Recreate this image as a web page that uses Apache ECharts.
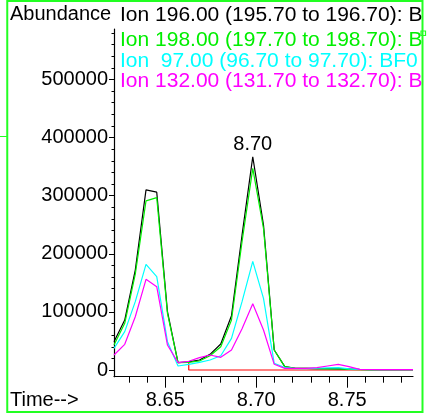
<!DOCTYPE html>
<html>
<head>
<meta charset="utf-8">
<script src="https://cdn.jsdelivr.net/npm/echarts@6/dist/echarts.min.js"></script>
<style>
html,body{margin:0;padding:0;background:#fff;}
#c{width:428px;height:413px;}
</style>
</head>
<body>
<div id="c"></div>
<script>
// Retention times (min)
const times = [8.6218, 8.6277, 8.6335, 8.6394, 8.6453, 8.6512, 8.6570, 8.6629, 8.6688, 8.6746,
  8.6805, 8.6864, 8.6922, 8.6981, 8.7040, 8.7099, 8.7157, 8.7216, 8.7275, 8.7334,
  8.7392, 8.7451, 8.7510, 8.7568, 8.7627, 8.7686, 8.7744, 8.7803, 8.7862];
// Ion 196.00 (black)
const ion196 = [48700, 86000, 172000, 310000, 306000, 100300, 12600, 14000, 17200, 27000,
  44700, 93500, 232000, 367000, 249500, 34400, 5700, 3000, 2900, 2500,
  2200, 1800, 1400, 1000, 800, 700, 600, 600, 600];
// Ion 198.00 (green)
const ion198 = [43000, 80300, 165000, 291000, 296600, 97500, 12600, 13000, 15500, 24600,
  40100, 86000, 220800, 347000, 243800, 34400, 5700, 2900, 2800, 2300,
  2000, 1700, 1200, 800, 600, 500, 500, 500, 500];
// Ion 97.00 (cyan)
const ion97 = [37300, 66000, 117600, 181900, 160600, 48700, 6900, 9800, 13200, 17200,
  24600, 54500, 117600, 187000, 123400, 11500, 4000, 2500, 2500, 3000,
  3500, 4000, 2000, 1000, 800, 700, 700, 700, 700];
// Ion 132.00 (magenta)
const ion132 = [25800, 44200, 91700, 156100, 143400, 43000, 12600, 15000, 21200, 25800,
  21800, 34400, 71000, 114000, 68800, 9800, 2900, 2900, 2900, 4000,
  6900, 9800, 5700, 1100, 900, 800, 800, 800, 800];
// Integration baseline (red)
const baseTimes = [8.6629, 8.6629, 8.7862];
const baseValues = [13500, 0, 0];

// Tick labels
const xMajorTicks = [8.65, 8.70, 8.75];
const xMinorTicks = [8.63, 8.64, 8.65, 8.66, 8.67, 8.68, 8.69, 8.70, 8.71, 8.72, 8.73, 8.74, 8.75, 8.76, 8.77, 8.78];
const yMajorTicks = [0, 100000, 200000, 300000, 400000, 500000];
const yMinorTicks = [];
for (let v = 0; v <= 580000; v += 20000) yMinorTicks.push(v);

const legendLines = [
  'Ion 196.00 (195.70 to 196.70): BF0',
  'Ion 198.00 (197.70 to 198.70): BF0',
  'Ion  97.00 (96.70 to 97.70): BF0',
  'Ion 132.00 (131.70 to 132.70): BF0'
];
const colors = ['#000000', '#00ee00', '#00ffff', '#ff00ff'];
const red = '#ff0000';
const FONT = '"Liberation Sans", Arial, sans-serif';

function zip(t, v) { return t.map((x, i) => [x, v[i]]); }

let pk = 0;
ion196.forEach((v, i) => { if (v > ion196[pk]) pk = i; });

const xMin = times[0], xMax = times[times.length - 1];
const yMin = -11530, yMax = 586900;

const chart = echarts.init(document.getElementById('c'), null, {renderer: 'canvas'});

function lineSeries(data, color, extra) {
  return Object.assign({
    type: 'line', data: data, xAxisIndex: 0, yAxisIndex: 0,
    showSymbol: false, symbol: 'none', silent: true, animation: false,
    lineStyle: {color: color, width: 1.2}, itemStyle: {color: color},
    emphasis: {disabled: true}
  }, extra || {});
}

const legendY = [15, 40, 61, 81];

chart.setOption({
  animation: false,
  backgroundColor: '#fff',
  textStyle: {fontFamily: FONT},
  grid: {left: 114, right: 15, top: 29, bottom: 36.3, containLabel: false},
  xAxis: [
    {
      type: 'value', position: 'bottom', min: xMin, max: xMax,
      axisLine: {show: true, onZero: false, lineStyle: {color: '#000', width: 1.2}},
      axisTick: {show: true, length: 6, customValues: xMinorTicks, lineStyle: {color: '#000', width: 1}},
      axisLabel: {show: false},
      splitLine: {show: false}
    },
    {
      type: 'value', position: 'bottom', min: xMin, max: xMax,
      axisLine: {show: false, onZero: false},
      axisTick: {show: true, length: 11, customValues: xMajorTicks, lineStyle: {color: '#000', width: 1}},
      axisLabel: {show: true, customValues: xMajorTicks, formatter: v => v.toFixed(2),
        fontSize: 20, color: '#000', margin: 14, fontFamily: FONT},
      splitLine: {show: false}
    }
  ],
  yAxis: [
    {
      type: 'value', position: 'left', min: yMin, max: yMax,
      axisLine: {show: true, onZero: false, lineStyle: {color: '#000', width: 1.2}},
      axisTick: {show: true, length: 2.5, customValues: yMinorTicks, lineStyle: {color: '#000', width: 1}},
      axisLabel: {show: false},
      splitLine: {show: false}
    },
    {
      type: 'value', position: 'left', min: yMin, max: yMax,
      axisLine: {show: false, onZero: false},
      axisTick: {show: true, length: 5, customValues: yMajorTicks, lineStyle: {color: '#000', width: 1}},
      axisLabel: {show: true, customValues: yMajorTicks, formatter: v => String(v),
        fontSize: 20, color: '#000', margin: 6, fontFamily: FONT},
      splitLine: {show: false}
    }
  ],
  series: [
    lineSeries(zip(baseTimes, baseValues), red),
    lineSeries(zip(times, ion196), colors[0], {
      markPoint: {
        symbol: 'circle', symbolSize: 1, silent: true, animation: false,
        itemStyle: {color: 'rgba(0,0,0,0)'},
        label: {show: true, position: 'top', distance: 2, formatter: '{c}', fontSize: 20, color: '#000', fontFamily: FONT},
        data: [{coord: [times[pk], ion196[pk]], value: times[pk].toFixed(2)}]
      }
    }),
    lineSeries(zip(times, ion198), colors[1]),
    lineSeries(zip(times, ion97), colors[2]),
    lineSeries(zip(times, ion132), colors[3])
  ],
  graphic: [
    {type: 'text', x: 10, y: 14, z: 50, style: {text: 'Abundance', fill: '#000', font: '20px ' + FONT, textVerticalAlign: 'middle', verticalAlign: 'middle'}},
    {type: 'text', x: 10, y: 400, z: 50, style: {text: 'Time-->', fill: '#000', font: '20px ' + FONT, textVerticalAlign: 'middle', verticalAlign: 'middle'}}
  ].concat(legendLines.map((t, i) => ({
    type: 'text', x: 120, y: legendY[i], z: 50, scaleX: 1.05,
    style: {text: t, fill: colors[i], font: '20px ' + FONT, textVerticalAlign: 'middle', verticalAlign: 'middle'}
  }))).concat([
    {type: 'rect', z: 90, shape: {x: 423, y: 0, width: 10, height: 413}, style: {fill: '#fff'}},
    {type: 'rect', z: 100, shape: {x: 7.25, y: 1, width: 415.25, height: 411}, style: {fill: 'none', stroke: '#22ff22', lineWidth: 2}},
    {type: 'line', z: 100, shape: {x1: 0, y1: 136.5, x2: 7, y2: 136.5}, style: {stroke: '#22ff22', lineWidth: 1}},
    {type: 'rect', z: 100, shape: {x: 421, y: 31, width: 4.5, height: 4.5}, style: {fill: 'none', stroke: '#22ff22', lineWidth: 1.2}}
  ])
});
</script>
</body>
</html>
